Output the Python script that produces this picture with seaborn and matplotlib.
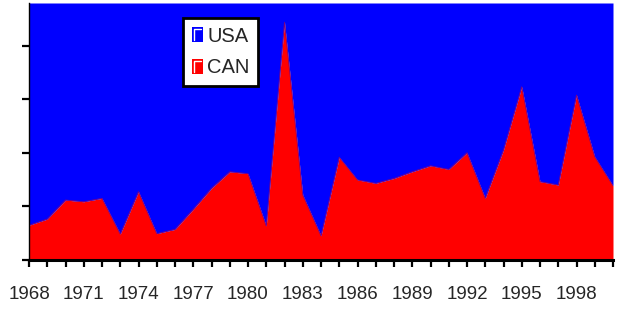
import numpy as np
import pandas as pd
import matplotlib
matplotlib.use("Agg")
import matplotlib.pyplot as plt
import seaborn as sns
from matplotlib.patches import Rectangle
from matplotlib.lines import Line2D
from matplotlib.legend_handler import HandlerBase

years = list(range(1968, 2001))
can = [16.2, 19.1, 28.0, 27.2, 28.8, 12.1, 31.9, 12.3, 14.3, 23.7, 33.5, 41.2, 40.3, 15.9,
       111.0, 30.4, 11.3, 48.0, 37.4, 35.8, 38.1, 41.2, 44.0, 42.3, 50.1, 28.8, 51.4, 80.9,
       36.6, 35.0, 77.0, 48.2, 34.7]
total = 120.0
usa = [total - c for c in can]
series_names = ["USA", "CAN"]
series_colors = {"USA": "#0000FF", "CAN": "#FF0000"}
tick_years = list(range(1968, 2000, 3))

df = pd.DataFrame({"year": years, "CAN": can, "USA": usa})

sns.set_theme(style="ticks")
plt.rcParams["font.family"] = ["Liberation Sans", "DejaVu Sans"]

fig = plt.figure(figsize=(6.19, 3.09), dpi=100)
ax = fig.add_axes([29 / 619, (309 - 260) / 309, (613 - 29) / 619, 257 / 309])

ax.stackplot(df["year"], df["CAN"], df["USA"],
             colors=[series_colors["CAN"], series_colors["USA"]],
             labels=["CAN", "USA"], linewidth=0)
sns.lineplot(x=df["year"], y=df["CAN"], ax=ax, color="#7f007f", linewidth=0.6,
             legend=False)

ax.set_xlim(1968, 2000)
ax.set_ylim(0, total)
ax.set_xticks(tick_years)
ax.set_xticklabels([str(y) for y in tick_years], fontsize=13.5)
ax.set_xticks(years, minor=True)
ax.set_yticks([0, 25, 50, 75, 100])
ax.set_yticklabels([])
ax.set_xlabel("")
ax.set_ylabel("")
ax.tick_params(axis="x", which="both", direction="out", length=5, width=1.6,
               color="black", pad=14)
ax.tick_params(axis="y", direction="out", length=5, width=1.6, color="black")
for s in ["top", "right"]:
    ax.spines[s].set_visible(False)
ax.spines["left"].set_linewidth(1.0)
ax.spines["left"].set_color("black")
ax.spines["bottom"].set_linewidth(2.2)
ax.spines["bottom"].set_color("black")


class BevelHandler(HandlerBase):
    def create_artists(self, legend, orig_handle, xdescent, ydescent, width, height,
                       fontsize, trans):
        w = 8.0
        h = 11.0
        x0 = -xdescent + (width - w) / 2
        y0 = -ydescent + (height - h) / 2
        r = Rectangle((x0, y0), w, h, facecolor=orig_handle.get_facecolor(),
                      edgecolor="none", transform=trans)
        ln = Line2D([x0 + 1.5, x0 + 1.5, x0 + w - 1.5], [y0 + 1.5, y0 + h - 1.5, y0 + h - 1.5],
                    color="white", linewidth=1.0, transform=trans)
        return [r, ln]


handles = [Rectangle((0, 0), 1, 1, facecolor=series_colors[n]) for n in series_names]
leg = ax.legend(handles, series_names, handler_map={Rectangle: BevelHandler()},
                loc="upper left", bbox_to_anchor=((182.7 - 29) / 584, (260 - 18.3) / 257),
                fontsize=14.5, frameon=True, fancybox=False, framealpha=1,
                edgecolor="black", handlelength=0.6, handletextpad=0.2,
                labelspacing=0.62, borderpad=0.42, borderaxespad=0)
leg.get_frame().set_linewidth(2.0)

fig.savefig("out.png", dpi=100)
